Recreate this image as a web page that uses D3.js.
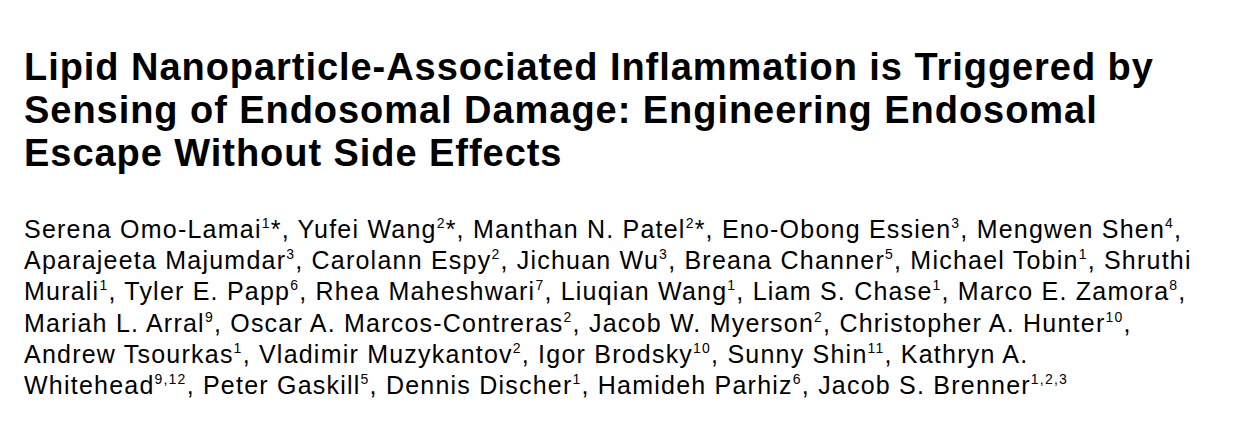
<!DOCTYPE html>
<html>
<head>
<meta charset="utf-8">
<script src="https://cdn.jsdelivr.net/npm/d3@7"></script>
<style>
  html, body { margin: 0; padding: 0; background: #fff; }
  svg { display: block; }
</style>
</head>
<body>
<svg id="page"></svg>
<script>
// title, one entry per printed line
var titleLines = [
  "Lipid Nanoparticle-Associated Inflammation is Triggered by",
  "Sensing of Endosomal Damage: Engineering Endosomal",
  "Escape Without Side Effects"
];

// author block, one entry per printed line, ^..^ marks an affiliation superscript
var authorLines = [
  "Serena Omo-Lamai^1^*, Yufei Wang^2^*, Manthan N. Patel^2^*, Eno-Obong Essien^3^, Mengwen Shen^4^,",
  "Aparajeeta Majumdar^3^, Carolann Espy^2^, Jichuan Wu^3^, Breana Channer^5^, Michael Tobin^1^, Shruthi",
  "Murali^1^, Tyler E. Papp^6^, Rhea Maheshwari^7^, Liuqian Wang^1^, Liam S. Chase^1^, Marco E. Zamora^8^,",
  "Mariah L. Arral^9^, Oscar A. Marcos-Contreras^2^, Jacob W. Myerson^2^, Christopher A. Hunter^10^,",
  "Andrew Tsourkas^1^, Vladimir Muzykantov^2^, Igor Brodsky^10^, Sunny Shin^11^, Kathryn A.",
  "Whitehead^9,12^, Peter Gaskill^5^, Dennis Discher^1^, Hamideh Parhiz^6^, Jacob S. Brenner^1,2,3^"
];

var width = 1254, height = 427;
var left = 24;

var svg = d3.select("#page")
    .attr("width", width)
    .attr("height", height);

// baselines of the lines
var yTitle = d3.scalePoint()
    .domain(d3.range(titleLines.length))
    .range([80, 166]);

var yAuthors = d3.scalePoint()
    .domain(d3.range(authorLines.length))
    .range([238, 394]);

svg.append("g")
  .selectAll("text")
  .data(titleLines)
  .enter()
  .append("text")
    .attr("x", left)
    .attr("y", function(d, i) { return yTitle(i); })
    .style("font-family", "'Liberation Sans', Arial, sans-serif")
    .style("font-weight", "bold")
    .style("font-size", "38px")
    .style("letter-spacing", "0.95px")
    .style("fill", "#000")
    .text(function(d) { return d; });

// split "Name^1^, " into plain and superscript pieces
function pieces(line) {
  return line.split("^").map(function(t, i) { return {t: t, sup: i % 2 == 1}; })
    .filter(function(p) { return p.t.length > 0; });
}

var rows = svg.append("g")
  .selectAll("text")
  .data(authorLines)
  .enter()
  .append("text")
    .attr("x", left)
    .attr("y", function(d, i) { return yAuthors(i); })
    .style("font-family", "'Liberation Sans', Arial, sans-serif")
    .style("font-size", "25px")
    .style("letter-spacing", "1.22px")
    .style("fill", "#000");

rows.selectAll("tspan")
  .data(function(d) { return pieces(d); })
  .enter()
  .append("tspan")
    .attr("dy", function(p, i, nodes) {
      var prev = i > 0 ? d3.select(nodes[i - 1]).datum().sup : false;
      if (p.sup && !prev) return -10;   // raise the affiliation numbers
      if (!p.sup && prev) return 10;
      return 0;
    })
    .style("font-size", function(p) { return p.sup ? "14px" : null; })
    .text(function(p) { return p.t; });
</script>
</body>
</html>
